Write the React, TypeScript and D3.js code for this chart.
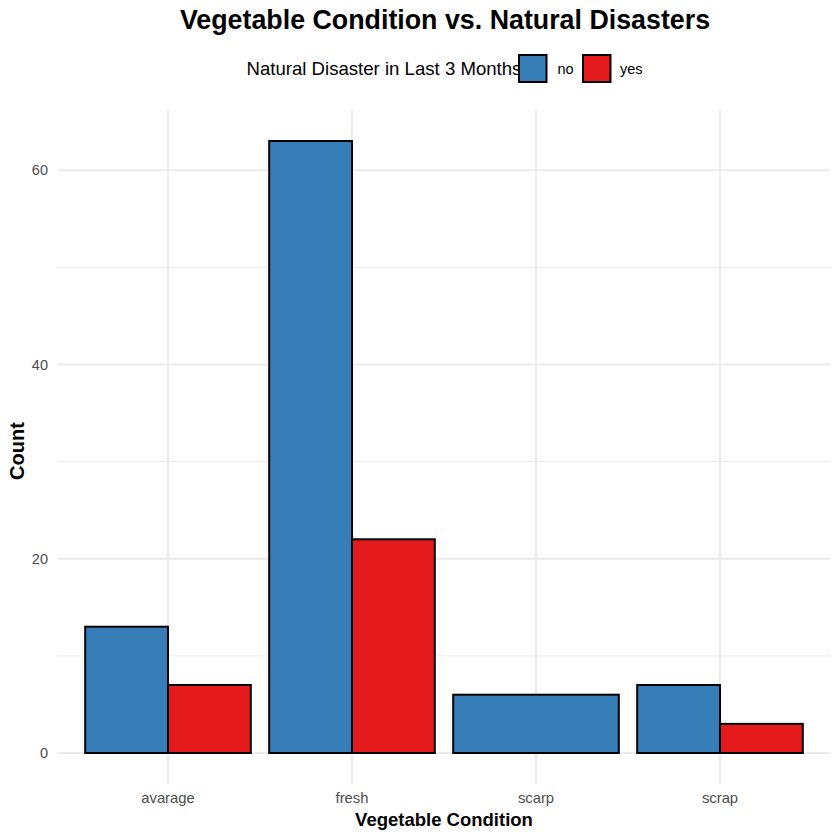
import React from "react";
import * as d3 from "d3";

const categories = ["avarage", "fresh", "scarp", "scrap"];
const groups = ["no", "yes"];
const noValues = [13, 63, 6, 7];
const yesValues = [7, 22, 0, 3];
const yTicks = [0, 20, 40, 60];
const yMinor = [10, 30, 50];
const colors = ["#377EB8", "#E41A1C"];

const W = 840, H = 840;
const left = 57.6, right = 830.4, top = 110.4, bottom = 783.6;

export default function App() {
  const x = d3.scaleLinear().domain([0.4, 4.6]).range([left, right]);
  const y = d3.scaleLinear().domain([-3.15, 66.15]).range([bottom, top]);
  const bars: { x0: number; x1: number; v: number; g: number }[] = [];
  categories.forEach((c, i) => {
    const present = groups.map((g, gi) => ({ g: gi, v: gi === 0 ? noValues[i] : yesValues[i] })).filter(d => d.v > 0);
    const n = present.length;
    const w = 0.9 / n;
    present.forEach((d, k) => {
      const a = i + 1 - 0.45 + k * w;
      bars.push({ x0: x(a), x1: x(a + w), v: d.v, g: d.g });
    });
  });
  return (
    <svg width={W} height={H} style={{ position: "absolute", left: 0, top: 0, fontFamily: "Liberation Sans, Arial, sans-serif" }}>
      <rect width={W} height={H} fill="#fff" />
      {yMinor.map(t => (
        <line key={"m" + t} x1={left} x2={right} y1={y(t)} y2={y(t)} stroke="#EBEBEB" strokeWidth={1} />
      ))}
      {yTicks.map(t => (
        <line key={"g" + t} x1={left} x2={right} y1={y(t)} y2={y(t)} stroke="#EBEBEB" strokeWidth={2} />
      ))}
      {categories.map((c, i) => (
        <line key={"v" + c} x1={x(i + 1)} x2={x(i + 1)} y1={top} y2={bottom} stroke="#EBEBEB" strokeWidth={2} />
      ))}
      {bars.map((b, i) => (
        <rect key={i} x={b.x0} y={y(b.v)} width={b.x1 - b.x0} height={y(0) - y(b.v)} fill={colors[b.g]} stroke="#000" strokeWidth={2} />
      ))}
      {yTicks.map(t => (
        <text key={"t" + t} x={48} y={y(t)} dy="0.35em" textAnchor="end" fontSize={14.5} fill="#4D4D4D">{t}</text>
      ))}
      {categories.map((c, i) => (
        <text key={"c" + c} x={x(i + 1)} y={803} textAnchor="middle" fontSize={14.8} fill="#4D4D4D">{c}</text>
      ))}
      <text x={444} y={826} textAnchor="middle" fontSize={18.5} fontWeight="bold">Vegetable Condition</text>
      <text transform="translate(24,451) rotate(-90)" textAnchor="middle" fontSize={20} fontWeight="bold">Count</text>
      <text x={445} y={29} textAnchor="middle" fontSize={26.8} fontWeight="bold">Vegetable Condition vs. Natural Disasters</text>
      <text x={246.5} y={75} fontSize={18.6}>Natural Disaster in Last 3 Months</text>
      {groups.map((g, gi) => (
        <g key={g}>
          <rect x={519 + gi * 64} y={55} width={27.5} height={27} fill={colors[gi]} stroke="#000" strokeWidth={2} />
          <text x={557.5 + gi * 62.5} y={74} fontSize={14.5}>{g}</text>
        </g>
      ))}
    </svg>
  );
}
